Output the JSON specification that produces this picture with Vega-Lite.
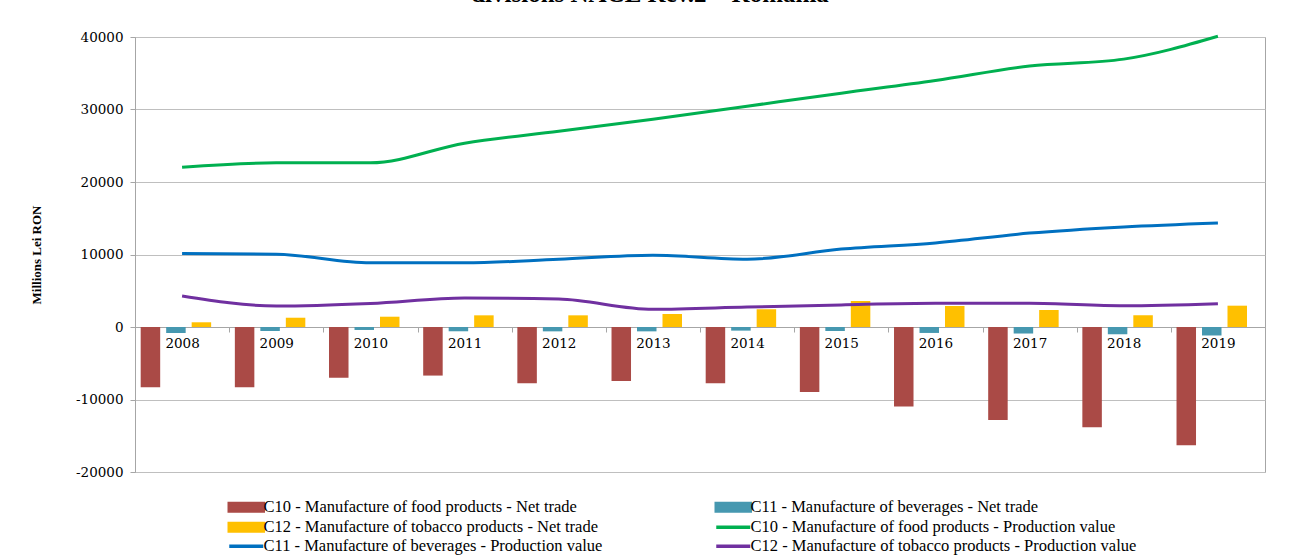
{
  "$schema": "https://vega.github.io/schema/vega-lite/v6.json",
  "width": 1130,
  "height": 435,
  "autosize": {"type": "none"},
  "padding": {"left": 135, "top": 37, "right": 39, "bottom": 84},
  "background": "white",
  "title": {
    "text": "divisions NACE Rev.2 – Romania",
    "font": "'Liberation Serif', 'Times New Roman', 'DejaVu Serif', serif",
    "fontSize": 25,
    "fontWeight": "bold",
    "color": "black",
    "anchor": "middle",
    "frame": "group",
    "baseline": "alphabetic",
    "offset": 3,
    "dx": -50
  },
  "config": {
    "view": {"stroke": "#A6A6A6", "strokeWidth": 1},
    "axis": {"labelColor": "black", "domainColor": "#A6A6A6", "tickColor": "#A6A6A6", "gridColor": "#BFBFBF"}
  },
  "datasets": {
    "bars": [
      {"year": "2008", "series": "C10 -  Manufacture of food products - Net trade", "value": -8300},
      {"year": "2009", "series": "C10 -  Manufacture of food products - Net trade", "value": -8300},
      {"year": "2010", "series": "C10 -  Manufacture of food products - Net trade", "value": -7000},
      {"year": "2011", "series": "C10 -  Manufacture of food products - Net trade", "value": -6700},
      {"year": "2012", "series": "C10 -  Manufacture of food products - Net trade", "value": -7770},
      {"year": "2013", "series": "C10 -  Manufacture of food products - Net trade", "value": -7450},
      {"year": "2014", "series": "C10 -  Manufacture of food products - Net trade", "value": -7770},
      {"year": "2015", "series": "C10 -  Manufacture of food products - Net trade", "value": -8950},
      {"year": "2016", "series": "C10 -  Manufacture of food products - Net trade", "value": -10950},
      {"year": "2017", "series": "C10 -  Manufacture of food products - Net trade", "value": -12830},
      {"year": "2018", "series": "C10 -  Manufacture of food products - Net trade", "value": -13820},
      {"year": "2019", "series": "C10 -  Manufacture of food products - Net trade", "value": -16320},
      {"year": "2008", "series": "C11 - Manufacture of beverages - Net trade", "value": -820},
      {"year": "2009", "series": "C11 - Manufacture of beverages - Net trade", "value": -550},
      {"year": "2010", "series": "C11 - Manufacture of beverages - Net trade", "value": -410},
      {"year": "2011", "series": "C11 - Manufacture of beverages - Net trade", "value": -590},
      {"year": "2012", "series": "C11 - Manufacture of beverages - Net trade", "value": -600},
      {"year": "2013", "series": "C11 - Manufacture of beverages - Net trade", "value": -600},
      {"year": "2014", "series": "C11 - Manufacture of beverages - Net trade", "value": -500},
      {"year": "2015", "series": "C11 - Manufacture of beverages - Net trade", "value": -550},
      {"year": "2016", "series": "C11 - Manufacture of beverages - Net trade", "value": -820},
      {"year": "2017", "series": "C11 - Manufacture of beverages - Net trade", "value": -900},
      {"year": "2018", "series": "C11 - Manufacture of beverages - Net trade", "value": -1000},
      {"year": "2019", "series": "C11 - Manufacture of beverages - Net trade", "value": -1170},
      {"year": "2008", "series": "C12 - Manufacture of tobacco products - Net trade", "value": 650},
      {"year": "2009", "series": "C12 - Manufacture of tobacco products - Net trade", "value": 1280},
      {"year": "2010", "series": "C12 - Manufacture of tobacco products - Net trade", "value": 1420},
      {"year": "2011", "series": "C12 - Manufacture of tobacco products - Net trade", "value": 1610},
      {"year": "2012", "series": "C12 - Manufacture of tobacco products - Net trade", "value": 1610},
      {"year": "2013", "series": "C12 - Manufacture of tobacco products - Net trade", "value": 1790},
      {"year": "2014", "series": "C12 - Manufacture of tobacco products - Net trade", "value": 2440},
      {"year": "2015", "series": "C12 - Manufacture of tobacco products - Net trade", "value": 3590},
      {"year": "2016", "series": "C12 - Manufacture of tobacco products - Net trade", "value": 2900},
      {"year": "2017", "series": "C12 - Manufacture of tobacco products - Net trade", "value": 2340},
      {"year": "2018", "series": "C12 - Manufacture of tobacco products - Net trade", "value": 1610},
      {"year": "2019", "series": "C12 - Manufacture of tobacco products - Net trade", "value": 2940}
    ],
    "lines": [
      {"year": "2008", "series": "C10 -  Manufacture of food products - Production value", "value": 22050},
      {"year": "2009", "series": "C10 -  Manufacture of food products - Production value", "value": 22650},
      {"year": "2010", "series": "C10 -  Manufacture of food products - Production value", "value": 22650},
      {"year": "2011", "series": "C10 -  Manufacture of food products - Production value", "value": 25350},
      {"year": "2012", "series": "C10 -  Manufacture of food products - Production value", "value": 27000},
      {"year": "2013", "series": "C10 -  Manufacture of food products - Production value", "value": 28650},
      {"year": "2014", "series": "C10 -  Manufacture of food products - Production value", "value": 30450},
      {"year": "2015", "series": "C10 -  Manufacture of food products - Production value", "value": 32250},
      {"year": "2016", "series": "C10 -  Manufacture of food products - Production value", "value": 34000},
      {"year": "2017", "series": "C10 -  Manufacture of food products - Production value", "value": 36000},
      {"year": "2018", "series": "C10 -  Manufacture of food products - Production value", "value": 36950},
      {"year": "2019", "series": "C10 -  Manufacture of food products - Production value", "value": 40100},
      {"year": "2008", "series": "C11 - Manufacture of beverages - Production value", "value": 10150},
      {"year": "2009", "series": "C11 - Manufacture of beverages - Production value", "value": 10050},
      {"year": "2010", "series": "C11 - Manufacture of beverages - Production value", "value": 8850},
      {"year": "2011", "series": "C11 - Manufacture of beverages - Production value", "value": 8850},
      {"year": "2012", "series": "C11 - Manufacture of beverages - Production value", "value": 9350},
      {"year": "2013", "series": "C11 - Manufacture of beverages - Production value", "value": 9900},
      {"year": "2014", "series": "C11 - Manufacture of beverages - Production value", "value": 9350},
      {"year": "2015", "series": "C11 - Manufacture of beverages - Production value", "value": 10750},
      {"year": "2016", "series": "C11 - Manufacture of beverages - Production value", "value": 11600},
      {"year": "2017", "series": "C11 - Manufacture of beverages - Production value", "value": 12950},
      {"year": "2018", "series": "C11 - Manufacture of beverages - Production value", "value": 13800},
      {"year": "2019", "series": "C11 - Manufacture of beverages - Production value", "value": 14350},
      {"year": "2008", "series": "C12 - Manufacture of tobacco products - Production value", "value": 4280},
      {"year": "2009", "series": "C12 - Manufacture of tobacco products - Production value", "value": 2900},
      {"year": "2010", "series": "C12 - Manufacture of tobacco products - Production value", "value": 3250},
      {"year": "2011", "series": "C12 - Manufacture of tobacco products - Production value", "value": 4000},
      {"year": "2012", "series": "C12 - Manufacture of tobacco products - Production value", "value": 3850},
      {"year": "2013", "series": "C12 - Manufacture of tobacco products - Production value", "value": 2440},
      {"year": "2014", "series": "C12 - Manufacture of tobacco products - Production value", "value": 2750},
      {"year": "2015", "series": "C12 - Manufacture of tobacco products - Production value", "value": 3050},
      {"year": "2016", "series": "C12 - Manufacture of tobacco products - Production value", "value": 3270},
      {"year": "2017", "series": "C12 - Manufacture of tobacco products - Production value", "value": 3270},
      {"year": "2018", "series": "C12 - Manufacture of tobacco products - Production value", "value": 2940},
      {"year": "2019", "series": "C12 - Manufacture of tobacco products - Production value", "value": 3220}
    ]
  },
  "encoding": {
    "x": {
      "field": "year", "type": "ordinal",
      "scale": {"type": "band", "paddingInner": 0, "paddingOuter": 0},
      "axis": {
        "title": null, "orient": "bottom", "offset": -145, "labelAngle": 0,
        "tickBand": "extent", "tickSize": 5, "grid": false,
        "labelFont": "'DejaVu Serif', 'Liberation Serif', serif", "labelFontSize": 13.5, "labelPadding": 4,
        "labelAlign": "center", "labelBaseline": "top"
      }
    },
    "y": {
      "field": "value", "type": "quantitative",
      "scale": {"domain": [-20000, 40000], "nice": false, "zero": false},
      "axis": {
        "values": [-20000, -10000, 0, 10000, 20000, 30000, 40000],
        "labelExpr": "'' + datum.value",
        "labelFont": "'DejaVu Serif', 'Liberation Serif', serif", "labelFontSize": 13.5, "labelPadding": 7,
        "tickSize": 5, "grid": true,
        "title": "Millions Lei RON", "titleFont": "'Liberation Serif', 'Times New Roman', serif", "titleFontSize": 13,
        "titleFontWeight": "bold", "titleColor": "black", "titlePadding": 32
      }
    },
    "color": {
      "field": "series", "type": "nominal",
      "scale": {
        "domain": [
          "C10 -  Manufacture of food products - Net trade",
          "C11 - Manufacture of beverages - Net trade",
          "C12 - Manufacture of tobacco products - Net trade",
          "C10 -  Manufacture of food products - Production value",
          "C11 - Manufacture of beverages - Production value",
          "C12 - Manufacture of tobacco products - Production value"
        ],
        "range": ["#AA4A46", "#4698B0", "#FFC000", "#00B050", "#0070C0", "#7030A0"]
      },
      "legend": {
        "orient": "none", "legendX": 91, "legendY": 462,
        "columns": 2, "direction": "horizontal", "title": null, "padding": 0,
        "labelFont": "'Liberation Serif', 'Times New Roman', serif", "labelFontSize": 16.5, "labelColor": "black", "labelLimit": 0,
        "symbolSize": 100, "labelOffset": 21, "rowPadding": -2, "columnPadding": 106,
        "encode": {
          "symbols": {
            "update": {
              "shape": {"signal": "test(/Production/, datum.value) ? 'M-1,0H5.8' : 'M-1,-0.75H5.8V0.75H-1Z'"},
              "fill": {"signal": "test(/Production/, datum.value) ? 'transparent' : scale('color', datum.value)"},
              "stroke": {"signal": "test(/Production/, datum.value) ? scale('color', datum.value) : 'transparent'"},
              "strokeWidth": {"value": 3.5},
              "opacity": {"value": 1}
            }
          }
        }
      }
    }
  },
  "layer": [
    {
      "data": {"name": "bars"},
      "mark": {"type": "bar"},
      "encoding": {
        "xOffset": {
          "field": "series", "type": "nominal",
          "scale": {
            "domain": [
              "C10 -  Manufacture of food products - Net trade",
              "C11 - Manufacture of beverages - Net trade",
              "C12 - Manufacture of tobacco products - Net trade"
            ],
            "paddingInner": 0.235, "paddingOuter": 0.465, "align": 0.24
          }
        }
      }
    },
    {
      "data": {"name": "lines"},
      "mark": {"type": "line", "strokeWidth": 3, "interpolate": "monotone"},
      "encoding": {}
    }
  ]
}
